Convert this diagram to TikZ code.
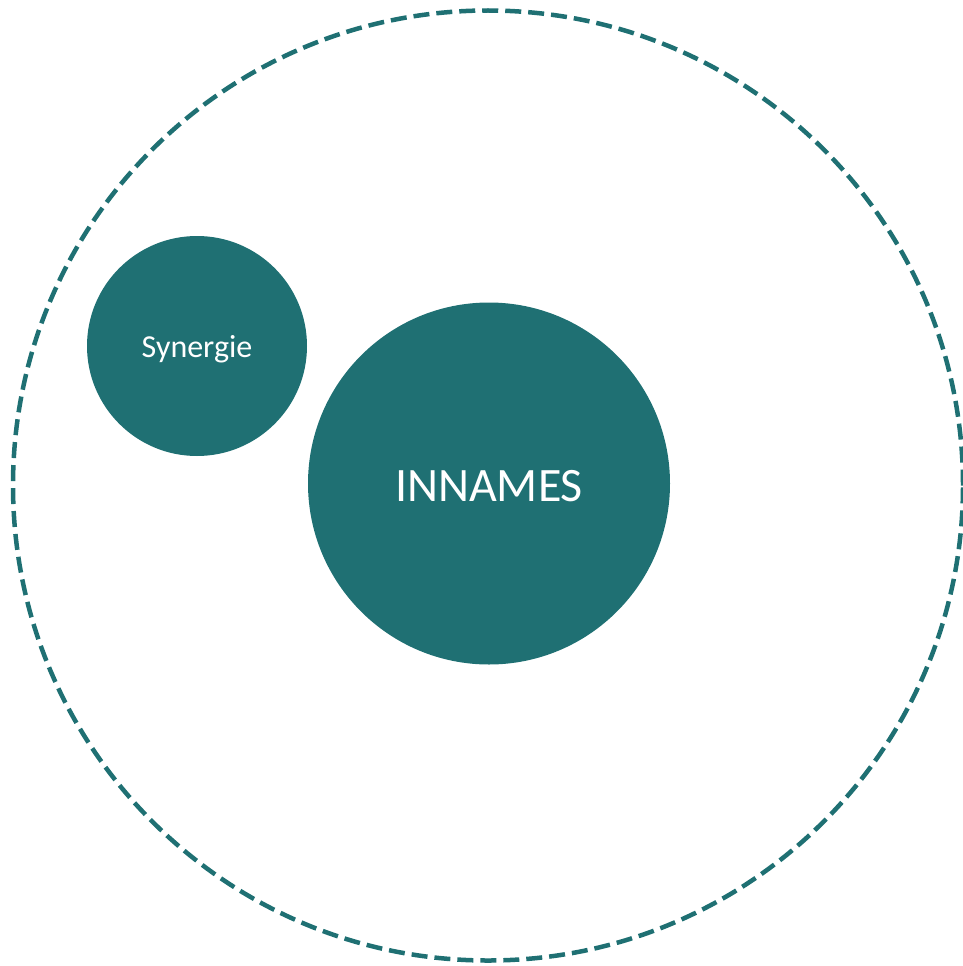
\documentclass[tikz,border=0pt]{standalone}
\usepackage{fontspec}
\setmainfont{Carlito}
\definecolor{teal1}{RGB}{31,112,115}
\begin{document}
\begin{tikzpicture}[x=1pt,y=-1pt,
  bubble/.style={circle,fill=teal1,text=white,inner sep=0pt,minimum size=#1}]
\useasboundingbox (0,0) rectangle (963,966);
\node[circle,draw=teal1,line width=4.5pt,dash pattern=on 16pt off 7pt,minimum size=950pt,inner sep=0pt] (outer) at (488,485.5) {};
\node[bubble=220pt] (syn) at (197,346) {};
\node[text=white,font=\fontsize{32}{38}\selectfont] at ([yshift=-3pt]syn.center) {Synergie};
\node[bubble=362pt] (inn) at (489,483.5) {};
\node[text=white,font=\fontsize{48}{58}\selectfont] at ([yshift=-3pt]inn.center) {INNAMES};
\end{tikzpicture}
\end{document}
